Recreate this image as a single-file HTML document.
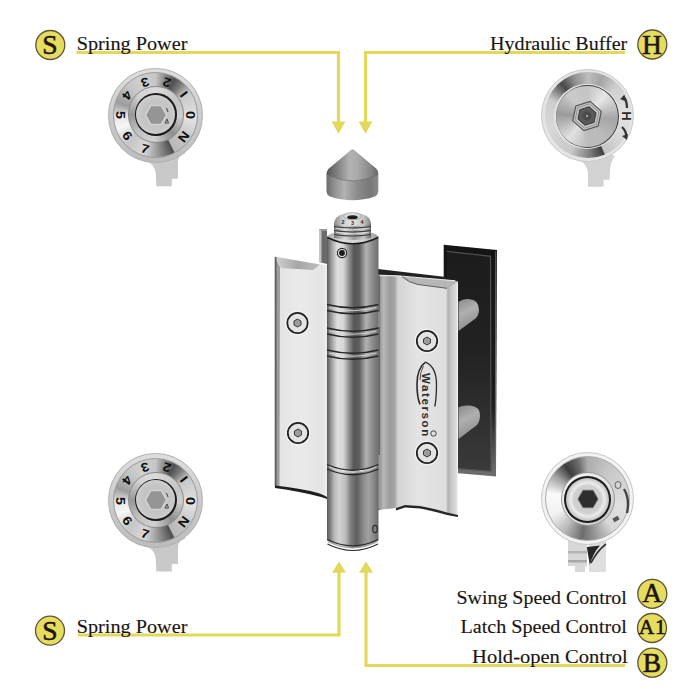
<!DOCTYPE html>
<html><head><meta charset="utf-8">
<style>
html,body{margin:0;padding:0;background:#fff;width:700px;height:700px;overflow:hidden;position:relative}
svg{display:block;position:absolute;left:0;top:0}
.k{position:absolute;border-radius:50%;box-sizing:border-box}
.lbl{font-family:"Liberation Serif",serif;font-size:19.6px;fill:#1a1512;stroke:#1a1512;stroke-width:0.15}
.bdg{font-family:"Liberation Serif",serif;font-size:27.5px;fill:#1e1410;text-anchor:middle;stroke:#1e1410;stroke-width:0.6}
.dig{position:absolute;font-family:"Liberation Sans",sans-serif;font-weight:bold;font-size:12.5px;color:#0e0e0e;width:10px;height:10px;line-height:10px;text-align:center}
</style></head>
<body>

<svg width="700" height="700" viewBox="0 0 700 700">
<defs>
  <linearGradient id="gPlate" x1="0" x2="0" y1="0" y2="1">
    <stop offset="0" stop-color="#1c1c1c"/>
    <stop offset="0.45" stop-color="#222"/>
    <stop offset="1" stop-color="#3a3a3a"/>
  </linearGradient>
  <linearGradient id="gPlateEdge" x1="0" x2="0" y1="0" y2="1">
    <stop offset="0" stop-color="#141414"/>
    <stop offset="0.7" stop-color="#1e1e1e"/>
    <stop offset="1" stop-color="#707070"/>
  </linearGradient>
  <linearGradient id="gBarrel" x1="327" x2="378.5" y1="0" y2="0" gradientUnits="userSpaceOnUse">
    <stop offset="0" stop-color="#5a5a5a"/>
    <stop offset="0.06" stop-color="#8a8a8a"/>
    <stop offset="0.13" stop-color="#b8b8b8"/>
    <stop offset="0.2" stop-color="#e0e0e0"/>
    <stop offset="0.32" stop-color="#d6d6d6"/>
    <stop offset="0.42" stop-color="#939393"/>
    <stop offset="0.52" stop-color="#585858"/>
    <stop offset="0.62" stop-color="#5c5c5c"/>
    <stop offset="0.76" stop-color="#b2b2b2"/>
    <stop offset="0.88" stop-color="#8c8c8c"/>
    <stop offset="1" stop-color="#6e6e6e"/>
  </linearGradient>
  <linearGradient id="gBarrelLo" x1="327" x2="378.5" y1="0" y2="0" gradientUnits="userSpaceOnUse">
    <stop offset="0" stop-color="#5a5a5a"/>
    <stop offset="0.06" stop-color="#7e7e7e"/>
    <stop offset="0.15" stop-color="#bdbdbd"/>
    <stop offset="0.24" stop-color="#d2d2d2"/>
    <stop offset="0.36" stop-color="#bcbcbc"/>
    <stop offset="0.46" stop-color="#7e7e7e"/>
    <stop offset="0.58" stop-color="#5e5e5e"/>
    <stop offset="0.7" stop-color="#8a8a8a"/>
    <stop offset="0.8" stop-color="#a2a2a2"/>
    <stop offset="0.92" stop-color="#858585"/>
    <stop offset="1" stop-color="#666666"/>
  </linearGradient>
  <linearGradient id="gDome" x1="334" x2="371" y1="0" y2="0" gradientUnits="userSpaceOnUse">
    <stop offset="0" stop-color="#888"/>
    <stop offset="0.25" stop-color="#d0d0d0"/>
    <stop offset="0.5" stop-color="#e6e6e6"/>
    <stop offset="0.8" stop-color="#c4c4c4"/>
    <stop offset="1" stop-color="#808080"/>
  </linearGradient>
  <linearGradient id="gRim" x1="327" x2="378" y1="0" y2="0" gradientUnits="userSpaceOnUse">
    <stop offset="0" stop-color="#a8a8a8"/>
    <stop offset="0.3" stop-color="#dedede"/>
    <stop offset="0.7" stop-color="#d4d4d4"/>
    <stop offset="1" stop-color="#9a9a9a"/>
  </linearGradient>
  <linearGradient id="gBarrelHi" x1="0" x2="1" y1="0" y2="0">
    <stop offset="0" stop-color="#8a8a8a"/>
    <stop offset="0.25" stop-color="#e4e4e4"/>
    <stop offset="0.6" stop-color="#b4b4b4"/>
    <stop offset="1" stop-color="#777"/>
  </linearGradient>
  <linearGradient id="gLeafL" x1="275" x2="327" y1="0" y2="0" gradientUnits="userSpaceOnUse">
    <stop offset="0" stop-color="#e2e2e2"/>
    <stop offset="0.5" stop-color="#eaeaea"/>
    <stop offset="0.9" stop-color="#e4e4e4"/>
    <stop offset="1" stop-color="#eeeeee"/>
  </linearGradient>
  <linearGradient id="gLeafR" x1="378" x2="458" y1="0" y2="0" gradientUnits="userSpaceOnUse">
    <stop offset="0" stop-color="#888888"/>
    <stop offset="0.035" stop-color="#a0a0a0"/>
    <stop offset="0.07" stop-color="#b8b8b8"/>
    <stop offset="0.15" stop-color="#9a9a9a"/>
    <stop offset="0.21" stop-color="#a6a6a6"/>
    <stop offset="0.25" stop-color="#d4d4d4"/>
    <stop offset="0.5" stop-color="#e4e4e4"/>
    <stop offset="0.85" stop-color="#dedede"/>
    <stop offset="0.875" stop-color="#b2b2b2"/>
    <stop offset="0.92" stop-color="#cacaca"/>
    <stop offset="1" stop-color="#e0e0e0"/>
  </linearGradient>
  <linearGradient id="gCone" x1="326" x2="378" y1="0" y2="0" gradientUnits="userSpaceOnUse">
    <stop offset="0" stop-color="#555555"/>
    <stop offset="0.2" stop-color="#7c7c7c"/>
    <stop offset="0.45" stop-color="#b2b2b2"/>
    <stop offset="0.6" stop-color="#aaaaaa"/>
    <stop offset="0.85" stop-color="#888888"/>
    <stop offset="1" stop-color="#666666"/>
  </linearGradient>
  <linearGradient id="gCap" x1="326" x2="378" y1="0" y2="0" gradientUnits="userSpaceOnUse">
    <stop offset="0" stop-color="#686868"/>
    <stop offset="0.15" stop-color="#8e8e8e"/>
    <stop offset="0.35" stop-color="#b2b2b2"/>
    <stop offset="0.6" stop-color="#8c8c8c"/>
    <stop offset="0.85" stop-color="#787878"/>
    <stop offset="1" stop-color="#8a8a8a"/>
  </linearGradient>
  <linearGradient id="gRod" x1="0" x2="0.3" y1="0" y2="1">
    <stop offset="0" stop-color="#8a8a8a"/>
    <stop offset="0.45" stop-color="#b0b0b0"/>
    <stop offset="1" stop-color="#8e8e8e"/>
  </linearGradient>
  <linearGradient id="gBevTop" x1="0" x2="1" y1="0" y2="0">
    <stop offset="0" stop-color="#cfcfcf"/>
    <stop offset="0.5" stop-color="#a6a6a6"/>
    <stop offset="1" stop-color="#bdbdbd"/>
  </linearGradient>
  <linearGradient id="gKnurl" x1="334" x2="371" y1="0" y2="0" gradientUnits="userSpaceOnUse">
    <stop offset="0" stop-color="#7a7a7a"/>
    <stop offset="0.3" stop-color="#d8d8d8"/>
    <stop offset="0.55" stop-color="#9a9a9a"/>
    <stop offset="0.8" stop-color="#c8c8c8"/>
    <stop offset="1" stop-color="#6a6a6a"/>
  </linearGradient>
</defs>

<!-- ===== arrows ===== -->
<g fill="none" stroke="#e3d85a" stroke-width="3.2">
  <polyline points="76.5,52.5 338.5,52.5 338.5,123"/>
  <polyline points="625,52.5 365.5,52.5 365.5,123"/>
  <polyline points="78,635 339,635 339,571"/>
  <polyline points="625,665.5 366,665.5 366,571"/>
</g>
<g fill="#e3d85a">
  <polygon points="331.5,121.5 345.5,121.5 338.5,133.8"/>
  <polygon points="358.5,121.5 372.5,121.5 365.5,133.8"/>
  <polygon points="332,572.7 346,572.7 339,561.5"/>
  <polygon points="359,572.7 373,572.7 366,561.5"/>
</g>

<!-- ===== labels ===== -->
<g>
  <g fill="#e6dc5e" stroke="#5d5535" stroke-width="1.3">
    <circle cx="50.3" cy="45" r="14.5"/>
    <circle cx="652.3" cy="44.5" r="14.5"/>
    <circle cx="50" cy="630.6" r="14.5"/>
    <circle cx="652.3" cy="593.8" r="14.5"/>
    <circle cx="652" cy="628" r="14.5"/>
    <circle cx="652.3" cy="662.7" r="14.5"/>
  </g>
  <text class="bdg" x="50" y="54">S</text>
  <text class="bdg" x="652" y="53.7">H</text>
  <text class="bdg" x="50" y="639.5">S</text>
  <text class="bdg" x="652.2" y="601.7">A</text>
  <text class="bdg" x="652.6" y="634.3" style="font-size:21.5px;letter-spacing:0.6px">A1</text>
  <text class="bdg" x="652" y="671.5">B</text>

  <text class="lbl" x="76.7" y="50.1" textLength="110.7" lengthAdjust="spacingAndGlyphs">Spring Power</text>
  <text class="lbl" x="490.1" y="50.1" textLength="137.2" lengthAdjust="spacingAndGlyphs">Hydraulic Buffer</text>
  <text class="lbl" x="76.7" y="633.1" textLength="110.7" lengthAdjust="spacingAndGlyphs">Spring Power</text>
  <text class="lbl" x="456.5" y="603.8" textLength="170.3" lengthAdjust="spacingAndGlyphs">Swing Speed Control</text>
  <text class="lbl" x="460.6" y="633.3" textLength="166.2" lengthAdjust="spacingAndGlyphs">Latch Speed Control</text>
  <text class="lbl" x="472.1" y="662.9" textLength="155.6" lengthAdjust="spacingAndGlyphs">Hold-open Control</text>
</g>

<!-- ===== hinge ===== -->
<g id="hinge">
  <!-- back dark plate -->
  <polygon points="443.7,244.7 497,249.9 496,476.5 443.7,472" fill="url(#gPlateEdge)"/>
  <polygon points="447,252 490.5,256.5 491,471 447,468" fill="url(#gPlate)"/>
  <polyline points="447,251.3 490.5,256.3 491,471 458,468.5" fill="none" stroke="#505050" stroke-width="1.2"/>
  <line x1="495.8" y1="251" x2="495.3" y2="475.5" stroke="#6a6a6a" stroke-width="1"/>
  <!-- rods -->
  <path d="M458.5,302 Q462,299 468.5,299 Q479,299.5 479,310 Q479,315 475.5,318.5 L458.5,331 Z" fill="url(#gRod)"/>
  <path d="M458.5,407.5 Q462,405 470,405.5 Q480,406.5 480,415.5 Q480,421 477,425 L458.5,439 Z" fill="url(#gRod)"/>
  <!-- back bracket behind barrel -->
  <polygon points="319,229 327,229 327,264 319,262" fill="#6a6a6a"/>
  <polygon points="319,229 321.5,229 321.5,262 319,262" fill="#c4c4c4"/>
  <polygon points="319,229 327,229 327,231 321.5,231" fill="#999"/>
  <!-- dark edge behind right leaf -->
  <polygon points="378,269 446,277 446,290 378,290" fill="#222"/>
  <!-- left leaf -->
  <polygon points="275,256.5 320,264.5 327,265 327,497 318,495 300,489.5 275,486" fill="url(#gLeafL)"/>
  <polygon points="276,257 320,264.5 313,270 281,268" fill="url(#gBevTop)"/>
  <polygon points="275,256.5 280,267 279.5,486 275,486" fill="#9c9c9c"/>
  <line x1="275.6" y1="257" x2="275.6" y2="486" stroke="#5e5e5e" stroke-width="1.8"/>
  <path d="M275,485.5 Q300,488 318,493 Q323,494.5 327,497 L327,499 Q322,497 317,496 Q300,491.5 275,488 Z" fill="#1e1e1e"/>
  <!-- right leaf -->
  <path d="M378,274.5 L403,276 Q410,283 418,284 L447,287.5 L458,281.5 L458,515 L447,513 Q430,508 420,506 L405,505 L396,508 L378,510 Z" fill="url(#gLeafR)"/>
  <path d="M378,274.5 L403,276 Q410,283 418,284.5 L447,288.5 L458,281.5 L455,280.5 Z" fill="#b6b6b6"/>
  <path d="M379.5,276 Q381,275 403,276.2 L455,280.8" fill="none" stroke="#ececec" stroke-width="1.1"/>
  <path d="M402,276.6 Q409,283 418,284.5 L447,288.3" fill="none" stroke="#5e5e5e" stroke-width="1"/>
  <line x1="379.2" y1="276" x2="379.2" y2="510" stroke="#606060" stroke-width="1.4"/>
  <line x1="457.4" y1="282" x2="457.4" y2="515" stroke="#f2f2f2" stroke-width="1.2"/>
  <path d="M396,508 L405,505 L420,506 Q432,508 447,512.5 L458,515 L458,517 L447,515 Q432,510.5 420,508.5 L405,507.5 L396,510.5 Z" fill="#262626"/>
  <!-- screws -->
  <g fill="#e4e4e4" stroke="#222" stroke-width="1.8">
    <circle cx="297.5" cy="323" r="10.2"/>
    <circle cx="298" cy="433" r="10.2"/>
    <circle cx="427" cy="341" r="10.2"/>
    <circle cx="427" cy="453" r="10.2"/>
  </g>
  <g fill="none" stroke="#f4f4f4" stroke-width="1">
    <circle cx="297.5" cy="323" r="12"/>
    <circle cx="298" cy="433" r="12"/>
    <circle cx="427" cy="341" r="12"/>
    <circle cx="427" cy="453" r="12"/>
  </g>
  <g fill="#9c9c9c" stroke="#3a3a3a" stroke-width="1">
    <polygon points="297.5,319 301,321 301,325 297.5,327 294,325 294,321"/>
    <polygon points="298,429 301.5,431 301.5,435 298,437 294.5,435 294.5,431"/>
    <polygon points="427,337 430.5,339 430.5,343 427,345 423.5,343 423.5,339"/>
    <polygon points="427,449 430.5,451 430.5,455 427,457 423.5,455 423.5,451"/>
  </g>
  <!-- logo -->
  <path d="M425.5,362.2 Q417,368 417,384.5 Q417,397 420,404.5" fill="none" stroke="#2a2a2a" stroke-width="1.6"/>
  <path d="M425.5,362.2 Q436.5,367 436.5,384.5 Q436.5,398 434.8,406.5" fill="none" stroke="#2a2a2a" stroke-width="1.3"/>
  <path d="M423.5,366 Q420,372 420,380" fill="none" stroke="#2a2a2a" stroke-width="0.8"/>
  <text x="0" y="0" transform="translate(422,373) rotate(90)" style="font-family:'Liberation Sans',sans-serif;font-weight:bold;font-size:11.5px;letter-spacing:1.6px;fill:#2a2a2a">Waterson</text>
  <circle cx="433.5" cy="433.5" r="2.7" fill="none" stroke="#2a2a2a" stroke-width="0.9"/>
  <!-- barrel upper -->
  <rect x="327" y="236" width="51.5" height="234" fill="url(#gBarrel)"/>
  <!-- barrel lower segment -->
  <path d="M327,466 Q352.7,477 378.5,466 L378.5,540.5 Q352.7,556 327,540.5 Z" fill="url(#gBarrelLo)"/>
  <path d="M327.5,539.5 Q352.7,552 378,539.5" fill="none" stroke="#2e2e2e" stroke-width="1.2"/>
  <path d="M328,542 Q352.7,554 377.5,542" fill="none" stroke="#a8a8a8" stroke-width="1"/>
  <path d="M327.5,544 Q352.7,557 378,544" fill="none" stroke="#333" stroke-width="1.2"/>
  <!-- segment protrusion -->
  <rect x="378" y="312" width="2.5" height="15" fill="#8a8a8a"/>
  <rect x="378.5" y="455" width="2" height="54" fill="#9a9a9a"/>
  <!-- rings -->
  <g fill="none" stroke="#262626" stroke-width="1.3">
    <path d="M327,304.5 Q352.7,311 378.5,304.5"/>
    <path d="M327,310.5 Q352.7,317 378.5,310.5"/>
    <path d="M327,328 Q352.7,334.5 378.5,328"/>
    <path d="M327,334 Q352.7,340.5 378.5,334"/>
    <path d="M327,350 Q352.7,356.5 378.5,350"/>
    <path d="M327,356 Q352.7,362.5 378.5,356"/>
    <path d="M327,464.5 Q352.7,476 378.5,464.5"/>
    <path d="M327,469 Q352.7,480.5 378.5,469"/>
  </g>
  <g fill="none" stroke="#dcdcdc" stroke-width="1.2" opacity="0.85">
    <path d="M329,307.5 Q352.7,314 376.5,307.5"/>
    <path d="M329,331 Q352.7,337.5 376.5,331"/>
    <path d="M329,353 Q352.7,359.5 376.5,353"/>
    <path d="M329,466.8 Q352.7,478 376.5,466.8"/>
  </g>
  <circle cx="342" cy="253" r="5.2" fill="#2a2a2a"/>
  <circle cx="342" cy="253" r="4.1" fill="#d8d8d8"/>
  <circle cx="342" cy="253" r="2.9" fill="#1a1a1a"/>
  <ellipse cx="375" cy="529" rx="2.3" ry="3.6" fill="none" stroke="#2a2a2a" stroke-width="1.1"/>
  <!-- barrel top rim -->
  <ellipse cx="352.7" cy="237" rx="25.6" ry="6.2" fill="url(#gRim)"/>
  <path d="M327.3,237.5 Q352.7,250 378.2,237.5" fill="none" stroke="#1a1a1a" stroke-width="1.5"/>
  <!-- adjuster knob -->
  <path d="M334,238 L334,224 Q335,213 352.5,213 Q370,213 371,224 L371,238 Q352.5,242 334,238 Z" fill="url(#gKnurl)"/>
  <g stroke="#3e3e3e" stroke-width="1.1" fill="none">
    <path d="M334,226.5 Q352.5,229.5 371,226.5"/>
    <path d="M334,230.5 Q352.5,233.5 371,230.5"/>
    <path d="M334,234.5 Q352.5,237.5 371,234.5"/>
  </g>
  <g stroke="#eeeeee" stroke-width="0.8" fill="none" opacity="0.8">
    <path d="M336,228.3 Q352.5,231.3 369,228.3"/>
    <path d="M336,232.3 Q352.5,235.3 369,232.3"/>
  </g>
  <path d="M334.5,224 Q335,213 352.5,213 Q370,213 370.5,224 Q352.5,228 334.5,224 Z" fill="url(#gDome)"/>
  <ellipse cx="352.5" cy="217.2" rx="5.2" ry="2" fill="#1a1a1a"/>
  <ellipse cx="352.5" cy="216.2" rx="9" ry="3.6" fill="none" stroke="#999" stroke-width="0.7"/>
  <text x="343" y="224" style="font-family:'Liberation Sans',sans-serif;font-weight:bold;font-size:5.5px;fill:#2a2a2a;text-anchor:middle">2</text>
  <text x="352.5" y="225" style="font-family:'Liberation Sans',sans-serif;font-weight:bold;font-size:5.5px;fill:#2a2a2a;text-anchor:middle">3</text>
  <text x="362" y="224" style="font-family:'Liberation Sans',sans-serif;font-weight:bold;font-size:5.5px;fill:#2a2a2a;text-anchor:middle">4</text>
  <!-- cap -->
  <path d="M326.5,175 Q326.5,171 328.5,169 L351.5,149.8 Q352.5,149 353.5,149.8 L376.5,169 Q378.3,171 378.3,175 L378.3,191 Q378,195 375,196.5 Q352.5,204 330,196.5 Q326.8,195 326.5,191 Z" fill="url(#gCap)"/>
  <path d="M326.6,174.5 Q326.8,171 328.5,169 L351.5,149.8 Q352.5,149 353.5,149.8 L376.5,169 Q378.2,171 378.2,174.5 Q366,180.5 352.5,180.5 Q339,180.5 326.6,174.5 Z" fill="url(#gCone)"/>
  <path d="M327.5,175 Q340,181 352.5,181 Q365,181 377.5,175" fill="none" stroke="#6a6a6a" stroke-width="1" opacity="0.6"/>
</g>

<!-- stems -->
<path d="M138,160 Q156,160 156,177 L156.3,186.3 L171.8,186.3 L171.8,179 L178,178.6 L178,162 Q178,155 186,153 L160,150 Z" fill="#c8c8c8"/>
<path d="M138,545.2 Q156,545.2 156,562.2 L156.3,571.5 L171.8,571.5 L171.8,564.2 L178,563.8 L178,547 Q178,540.2 186,538.2 L160,535 Z" fill="#c8c8c8"/>
<path d="M577,159.5 Q588,163 588,175 L588,186.7 L603.6,186.7 L603.6,179.8 L609.6,179.8 L610,172.6 Q610,162 615,156 L595,150 Z" fill="#d2d2d2"/>
<path d="M568,540 L568,566 L575,566 L575,572 L585,572 L585,566 L587,566 L587,540 Z" fill="#d8d8d8"/>
<rect x="568" y="551" width="19" height="2.5" fill="#b4b4b4"/><rect x="568" y="560" width="19" height="2.5" fill="#a8a8a8"/>
<path d="M589,540 L606,540 L606,572 L589,572 Z" fill="#dedede"/>
<path d="M586.8,547 L600,545.5 Q593,553 589.8,565 Z" fill="#262626"/>
<path d="M606,544 Q597,551 591,563" fill="none" stroke="#333" stroke-width="1.6"/>
</svg>

<div class="k" style="left:108.40px;top:68.20px;width:94.40px;height:94.40px;background:linear-gradient(180deg,#dedede 0%,#c8c8c8 60%,#bcbcbc 100%);border:0.8px solid #b0b0b0"></div>
<div class="k" style="left:112.80px;top:72.40px;width:85.60px;height:85.60px;background:conic-gradient(from 0deg,#c6c6c6 0deg,#9a9a9a 10deg,#505050 28deg,#7a7a7a 40deg,#c8c8c8 55deg,#e2e2e2 95deg,#c6c6c6 127deg,#b8b8b8 152deg,#4e4e4e 154deg,#8a8a8a 172deg,#d8d8d8 197deg,#c6c6c6 225deg,#f6f6f6 250deg,#e6e6e6 268deg,#9c9c9c 288deg,#c4c4c4 315deg,#d0d0d0 335deg,#c6c6c6 360deg);border:0.6px solid #9a9a9a"></div>
<div class="k" style="left:127.60px;top:86.30px;width:56.40px;height:56.40px;background:conic-gradient(from 0deg,#dadada 0deg,#c4c4c4 60deg,#cfcfcf 95deg,#8e8e8e 140deg,#d2d2d2 185deg,#c2c2c2 225deg,#989898 270deg,#d4d4d4 320deg,#dadada 360deg);border:0.6px solid #8a8a8a"></div>
<div class="k" style="left:134.60px;top:93.30px;width:42.40px;height:42.40px;background:#1c1c1c"></div>
<div class="k" style="left:136.20px;top:94.90px;width:39.20px;height:39.20px;background:radial-gradient(circle,#b8b8b8 0,#c8c8c8 60%,#dcdcdc 85%,#b0b0b0 100%)"></div>
<svg style="left:143.29999999999998px;top:101.8px" width="26" height="26" viewBox="-13 -13 26 26"><polygon points="-10.7,0 -5.35,-9.5 5.35,-9.5 10.7,0 5.35,9.5 -5.35,9.5" fill="#959595" stroke="#d2d2d2" stroke-width="1.6"/><path d="M10.5,-7 L12,-3 M11,4 L9,8 L12.5,8 Z" stroke="#444" stroke-width="1" fill="none"/></svg>
<div class="dig" style="left:185.90px;top:110.40px;transform:rotate(-90deg) scaleX(1.15)">0</div>
<div class="dig" style="left:178.79px;top:89.16px;transform:rotate(-127deg) scaleX(1.15)">I</div>
<div class="dig" style="left:161.51px;top:76.83px;transform:rotate(-162deg) scaleX(1.15)">2</div>
<div class="dig" style="left:139.69px;top:76.83px;transform:rotate(-198deg) scaleX(1.15)">3</div>
<div class="dig" style="left:122.04px;top:89.65px;transform:rotate(-234deg) scaleX(1.15)">4</div>
<div class="dig" style="left:115.30px;top:110.40px;transform:rotate(90deg) scaleX(1.15)">5</div>
<div class="dig" style="left:122.04px;top:131.15px;transform:rotate(54deg) scaleX(1.15)">6</div>
<div class="dig" style="left:140.28px;top:144.16px;transform:rotate(17deg) scaleX(1.15)">7</div>
<div class="dig" style="left:178.79px;top:131.64px;transform:rotate(-53deg) scaleX(1.15)">N</div>
<div class="k" style="left:108.40px;top:453.40px;width:94.40px;height:94.40px;background:linear-gradient(180deg,#dedede 0%,#c8c8c8 60%,#bcbcbc 100%);border:0.8px solid #b0b0b0"></div>
<div class="k" style="left:112.80px;top:457.60px;width:85.60px;height:85.60px;background:conic-gradient(from 0deg,#c6c6c6 0deg,#9a9a9a 10deg,#505050 28deg,#7a7a7a 40deg,#c8c8c8 55deg,#e2e2e2 95deg,#c6c6c6 127deg,#b8b8b8 152deg,#4e4e4e 154deg,#8a8a8a 172deg,#d8d8d8 197deg,#c6c6c6 225deg,#f6f6f6 250deg,#e6e6e6 268deg,#9c9c9c 288deg,#c4c4c4 315deg,#d0d0d0 335deg,#c6c6c6 360deg);border:0.6px solid #9a9a9a"></div>
<div class="k" style="left:127.60px;top:471.50px;width:56.40px;height:56.40px;background:conic-gradient(from 0deg,#dadada 0deg,#c4c4c4 60deg,#cfcfcf 95deg,#8e8e8e 140deg,#d2d2d2 185deg,#c2c2c2 225deg,#989898 270deg,#d4d4d4 320deg,#dadada 360deg);border:0.6px solid #8a8a8a"></div>
<div class="k" style="left:134.60px;top:478.50px;width:42.40px;height:42.40px;background:#1c1c1c"></div>
<div class="k" style="left:136.20px;top:480.10px;width:39.20px;height:39.20px;background:radial-gradient(circle,#b8b8b8 0,#c8c8c8 60%,#dcdcdc 85%,#b0b0b0 100%)"></div>
<svg style="left:143.29999999999998px;top:487.00000000000006px" width="26" height="26" viewBox="-13 -13 26 26"><polygon points="-10.7,0 -5.35,-9.5 5.35,-9.5 10.7,0 5.35,9.5 -5.35,9.5" fill="#959595" stroke="#d2d2d2" stroke-width="1.6"/><path d="M10.5,-7 L12,-3 M11,4 L9,8 L12.5,8 Z" stroke="#444" stroke-width="1" fill="none"/></svg>
<div class="dig" style="left:185.90px;top:495.60px;transform:rotate(-90deg) scaleX(1.15)">0</div>
<div class="dig" style="left:178.79px;top:474.36px;transform:rotate(-127deg) scaleX(1.15)">I</div>
<div class="dig" style="left:161.51px;top:462.03px;transform:rotate(-162deg) scaleX(1.15)">2</div>
<div class="dig" style="left:139.69px;top:462.03px;transform:rotate(-198deg) scaleX(1.15)">3</div>
<div class="dig" style="left:122.04px;top:474.85px;transform:rotate(-234deg) scaleX(1.15)">4</div>
<div class="dig" style="left:115.30px;top:495.60px;transform:rotate(90deg) scaleX(1.15)">5</div>
<div class="dig" style="left:122.04px;top:516.35px;transform:rotate(54deg) scaleX(1.15)">6</div>
<div class="dig" style="left:140.28px;top:529.36px;transform:rotate(17deg) scaleX(1.15)">7</div>
<div class="dig" style="left:178.79px;top:516.84px;transform:rotate(-53deg) scaleX(1.15)">N</div>
<div class="k" style="left:540.80px;top:69.10px;width:93.40px;height:93.40px;background:#e4e4e4;border:0.8px solid #c8c8c8"></div>
<div class="k" style="left:544.50px;top:72.30px;width:86.00px;height:86.00px;background:conic-gradient(from 0deg,#bdbdbd 0deg,#a4a4a4 20deg,#cfcfcf 45deg,#e2e2e2 90deg,#d6d6d6 128deg,#c4c4c4 156deg,#3e3e3e 158deg,#7a7a7a 176deg,#c8c8c8 205deg,#d8d8d8 250deg,#cdcdcd 292deg,#484848 320deg,#8e8e8e 338deg,#bdbdbd 360deg)"></div>
<div class="k" style="left:554.40px;top:83.50px;width:65.20px;height:65.20px;background:#e6e6e6"></div>
<div class="k" style="left:555.50px;top:84.60px;width:63.00px;height:63.00px;background:#3a3a3a"></div>
<div class="k" style="left:556.40px;top:85.50px;width:61.20px;height:61.20px;background:conic-gradient(from 0deg,#c4c4c4,#e6e6e6 40deg,#a6a6a6 95deg,#bababa 140deg,#bcbcbc 180deg,#e2e2e2 220deg,#9a9a9a 275deg,#cacaca 320deg,#c4c4c4 360deg)"></div>
<svg style="left:570.2px;top:98.6px" width="34" height="34" viewBox="-17 -17 34 34"><g transform="rotate(12)"><polygon points="0,-15 13,-7.5 13,7.5 0,15 -13,7.5 -13,-7.5" fill="#c4c4c4" stroke="#555" stroke-width="1.2"/><polygon points="0,-12.5 10.8,-6.25 10.8,6.25 0,12.5 -10.8,6.25 -10.8,-6.25" fill="none" stroke="#8a8a8a" stroke-width="0.8"/><polygon points="0,-9.5 8.2,-4.75 8.2,4.75 0,9.5 -8.2,4.75 -8.2,-4.75" fill="#5a5a5a" stroke="#3a3a3a" stroke-width="1"/></g><circle r="4.5" fill="#4a4a4a"/><circle r="1" fill="#bbb"/></svg>
<div style="position:absolute;left:619.5px;top:108.8px;width:12px;height:14px;font-family:Liberation Sans,sans-serif;font-weight:bold;font-size:13px;line-height:14px;color:#2a2a2a;transform:rotate(90deg);text-align:center">H</div>
<svg style="left:615.5px;top:93.8px" width="16" height="46" viewBox="0 0 16 46"><path d="M7,2 Q11,6 11,14 M6,33 Q11,38 10,43" stroke="#333" stroke-width="2.2" fill="none"/><path d="M4,5 L9,1 L9,7 Z M6,42 L11,46 L12,40 Z" fill="#333"/></svg>
<div class="k" style="left:540.60px;top:451.60px;width:93.80px;height:93.80px;background:#f2f2f2;border:0.9px solid #c6c6c6"></div>
<div class="k" style="left:545.30px;top:455.50px;width:85.00px;height:85.00px;background:conic-gradient(from 0deg,#acacac 0deg,#c6c6c6 35deg,#d4d4d4 70deg,#e0e0e0 100deg,#d8d8d8 140deg,#8e8e8e 172deg,#6e6e6e 188deg,#b8b8b8 215deg,#f2f2f2 245deg,#fafafa 278deg,#a0a0a0 305deg,#3c3c3c 326deg,#6a6a6a 345deg,#acacac 360deg);border:0.6px solid #aaa"></div>
<div class="k" style="left:560.50px;top:472.30px;width:54.00px;height:54.00px;background:linear-gradient(135deg,#f6f6f6,#e0e0e0 60%,#b8b8b8);border:0.6px solid #999"></div>
<div class="k" style="left:564.10px;top:475.90px;width:46.80px;height:46.80px;background:#1c1c1c"></div>
<div class="k" style="left:565.90px;top:477.70px;width:43.20px;height:43.20px;background:radial-gradient(circle,#cfcfcf 0,#cfcfcf 45%,#ececec 55%,#c4c4c4 70%,#e6e6e6 85%,#bdbdbd 100%)"></div>
<svg style="left:575.5px;top:487.3px" width="24" height="24" viewBox="-12 -12 24 24"><polygon points="-10,0 -5,-8.7 5,-8.7 10,0 5,8.7 -5,8.7" fill="#2e2e2e" stroke="#666" stroke-width="1"/></svg>
<svg style="left:609.5px;top:478.5px" width="24" height="48" viewBox="0 0 24 48"><path d="M14,10 Q20,20 17,34" stroke="#444" stroke-width="2.4" fill="none"/><ellipse cx="8" cy="6" rx="3" ry="3.5" fill="none" stroke="#666" stroke-width="1"/><rect x="3" y="38" width="6" height="4" fill="#555" transform="rotate(-30 6 40)"/></svg>
</body></html>
